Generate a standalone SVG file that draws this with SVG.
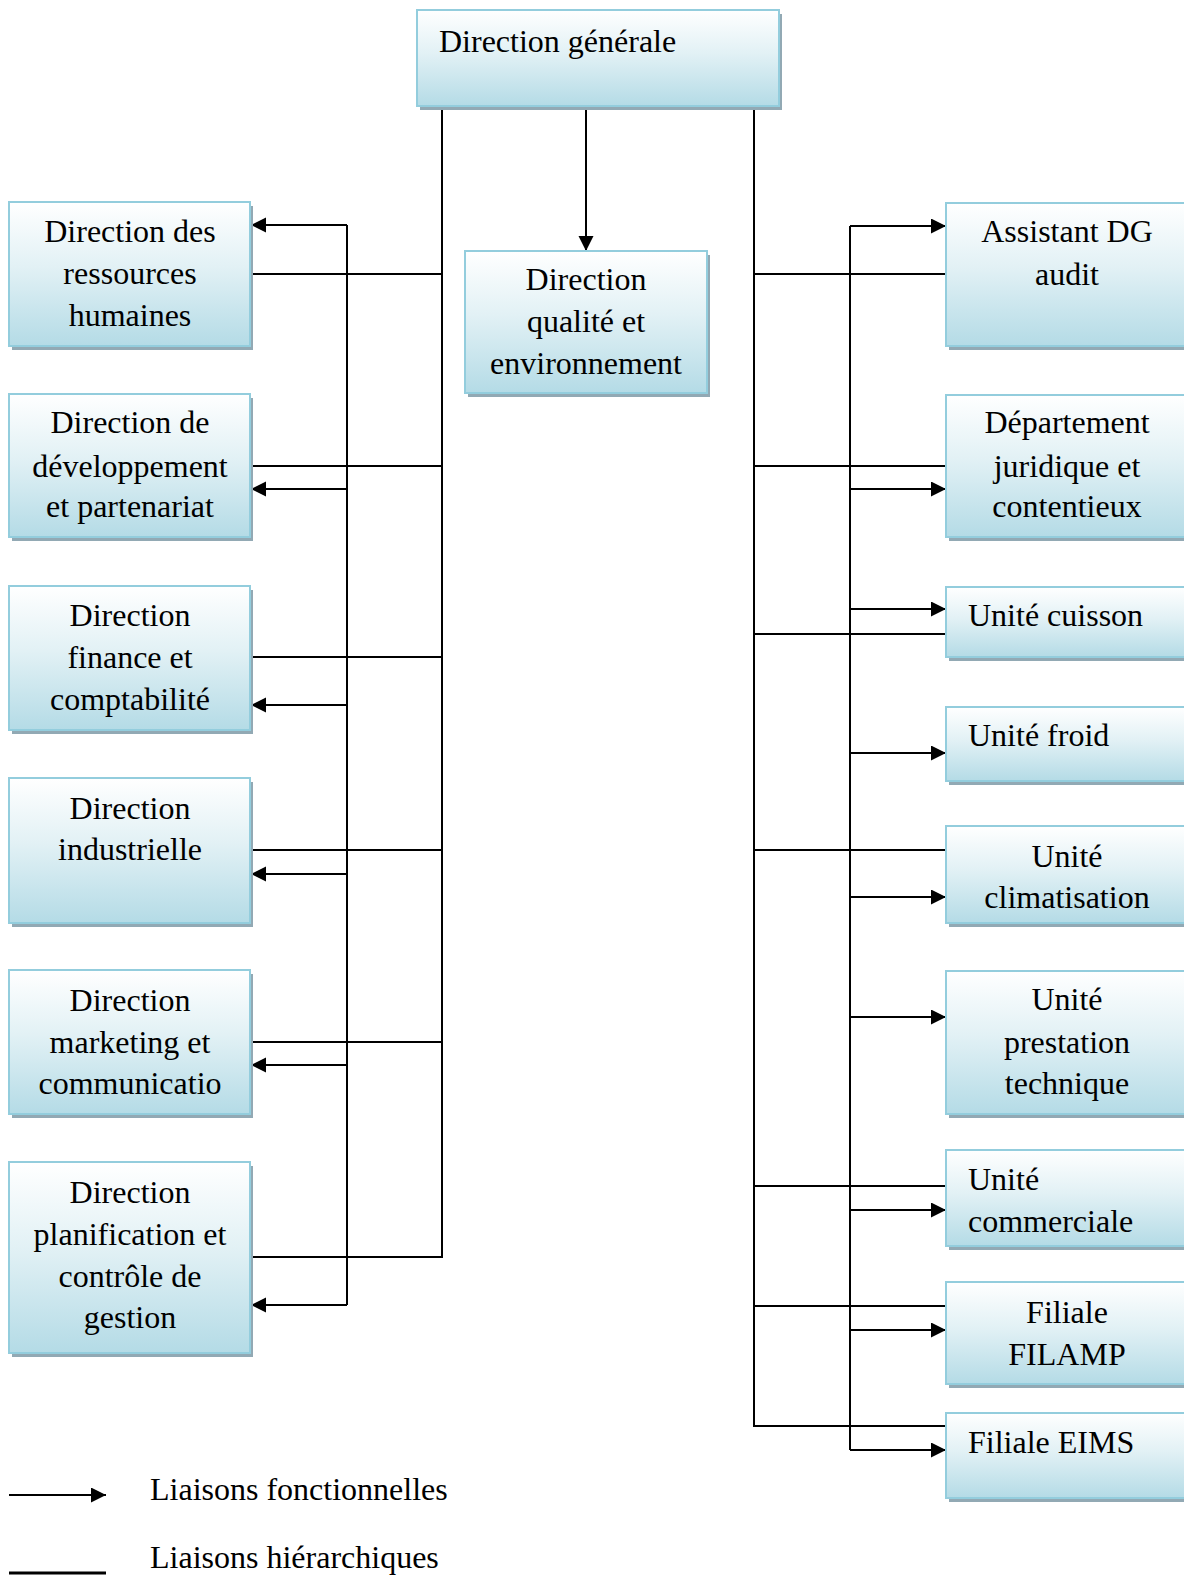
<svg xmlns="http://www.w3.org/2000/svg" width="1184" height="1575" viewBox="0 0 1184 1575">
<defs>
<linearGradient id="g" x1="0" y1="0" x2="0" y2="1">
<stop offset="0" stop-color="#ffffff"/>
<stop offset="0.45" stop-color="#e2f1f5"/>
<stop offset="1" stop-color="#b4dbe6"/>
</linearGradient>
<marker id="ah" markerUnits="userSpaceOnUse" markerWidth="16" markerHeight="16" refX="15" refY="7.5" orient="auto" viewBox="0 0 16 16">
<path d="M0,0 L15,7.5 L0,15 z" fill="#000"/>
</marker>
</defs>
<style>
.sh{fill:#92a9b4}
.bx{fill:url(#g);stroke:#93cddd;stroke-width:2}
text{font-family:"Liberation Serif","Times New Roman",serif;font-size:32px;fill:#000}
.c{text-anchor:middle}
.ln{fill:none;stroke:#000;stroke-width:2}
.ar{fill:none;stroke:#000;stroke-width:2;marker-end:url(#ah)}
</style>
<rect width="1184" height="1575" fill="#fff"/>

<g id="connectors">
<path class="ln" d="M442,106 V1257 H250"/>
<path class="ln" d="M250,274 H442 M250,466 H442 M250,657 H442 M250,850 H442 M250,1042 H442"/>
<path class="ln" d="M347,225 V1305"/>
<path class="ar" d="M347,225 H251"/>
<path class="ar" d="M347,489 H251"/>
<path class="ar" d="M347,705 H251"/>
<path class="ar" d="M347,874 H251"/>
<path class="ar" d="M347,1065 H251"/>
<path class="ar" d="M347,1305 H251"/>
<path class="ar" d="M586,106 V251"/>
<path class="ln" d="M754,106 V1426 H946"/>
<path class="ln" d="M754,274 H946 M754,466 H946 M754,634 H946 M754,850 H946 M754,1186 H946 M754,1306 H946"/>
<path class="ln" d="M850,226 V1450"/>
<path class="ar" d="M850,226 H946"/>
<path class="ar" d="M850,489 H946"/>
<path class="ar" d="M850,609 H946"/>
<path class="ar" d="M850,753 H946"/>
<path class="ar" d="M850,897 H946"/>
<path class="ar" d="M850,1017 H946"/>
<path class="ar" d="M850,1210 H946"/>
<path class="ar" d="M850,1330 H946"/>
<path class="ar" d="M850,1450 H946"/>
</g>

<g id="n-dg">
<rect class="sh" x="420" y="14" width="362" height="96"/>
<rect class="bx" x="417" y="10" width="362" height="96"/>
<text x="439" y="52">Direction générale</text>
</g>

<g id="n-dqe">
<rect class="sh" x="468" y="255" width="242" height="142"/>
<rect class="bx" x="465" y="251" width="242" height="142"/>
<text class="c" x="586" y="290">Direction</text>
<text class="c" x="586" y="332">qualité et</text>
<text class="c" x="586" y="374">environnement</text>
</g>

<g id="n-drh">
<rect class="sh" x="12" y="206" width="241" height="144"/>
<rect class="bx" x="9" y="202" width="241" height="144"/>
<text class="c" x="130" y="242">Direction des</text>
<text class="c" x="130" y="284">ressources</text>
<text class="c" x="130" y="326">humaines</text>
</g>

<g id="n-ddp">
<rect class="sh" x="12" y="398" width="241" height="143"/>
<rect class="bx" x="9" y="394" width="241" height="143"/>
<text class="c" x="130" y="433">Direction de</text>
<text class="c" x="130" y="477">développement</text>
<text class="c" x="130" y="517">et partenariat</text>
</g>

<g id="n-dfc">
<rect class="sh" x="12" y="590" width="241" height="144"/>
<rect class="bx" x="9" y="586" width="241" height="144"/>
<text class="c" x="130" y="626">Direction</text>
<text class="c" x="130" y="668">finance et</text>
<text class="c" x="130" y="710">comptabilité</text>
</g>

<g id="n-di">
<rect class="sh" x="12" y="782" width="241" height="145"/>
<rect class="bx" x="9" y="778" width="241" height="145"/>
<text class="c" x="130" y="819">Direction</text>
<text class="c" x="130" y="860">industrielle</text>
</g>

<g id="n-dmc">
<rect class="sh" x="12" y="974" width="241" height="144"/>
<rect class="bx" x="9" y="970" width="241" height="144"/>
<text class="c" x="130" y="1011">Direction</text>
<text class="c" x="130" y="1053">marketing et</text>
<text class="c" x="130" y="1094">communicatio</text>
</g>

<g id="n-dpcg">
<rect class="sh" x="12" y="1166" width="241" height="191"/>
<rect class="bx" x="9" y="1162" width="241" height="191"/>
<text class="c" x="130" y="1203">Direction</text>
<text class="c" x="130" y="1245">planification et</text>
<text class="c" x="130" y="1287">contrôle de</text>
<text class="c" x="130" y="1328">gestion</text>
</g>

<g id="n-adg">
<rect class="sh" x="949" y="207" width="241" height="143"/>
<rect class="bx" x="946" y="203" width="241" height="143"/>
<text class="c" x="1067" y="242">Assistant DG</text>
<text class="c" x="1067" y="285">audit</text>
</g>

<g id="n-djc">
<rect class="sh" x="949" y="399" width="241" height="142"/>
<rect class="bx" x="946" y="395" width="241" height="142"/>
<text class="c" x="1067" y="433">Département</text>
<text class="c" x="1067" y="477">juridique et</text>
<text class="c" x="1067" y="517">contentieux</text>
</g>

<g id="n-uc">
<rect class="sh" x="949" y="591" width="241" height="70"/>
<rect class="bx" x="946" y="587" width="241" height="70"/>
<text x="968" y="626">Unité cuisson</text>
</g>

<g id="n-uf">
<rect class="sh" x="949" y="711" width="241" height="74"/>
<rect class="bx" x="946" y="707" width="241" height="74"/>
<text x="968" y="746">Unité froid</text>
</g>

<g id="n-ucl">
<rect class="sh" x="949" y="830" width="241" height="97"/>
<rect class="bx" x="946" y="826" width="241" height="97"/>
<text class="c" x="1067" y="867">Unité</text>
<text class="c" x="1067" y="908">climatisation</text>
</g>

<g id="n-upt">
<rect class="sh" x="949" y="975" width="241" height="143"/>
<rect class="bx" x="946" y="971" width="241" height="143"/>
<text class="c" x="1067" y="1010">Unité</text>
<text class="c" x="1067" y="1053">prestation</text>
<text class="c" x="1067" y="1094">technique</text>
</g>

<g id="n-ucom">
<rect class="sh" x="949" y="1154" width="241" height="96"/>
<rect class="bx" x="946" y="1150" width="241" height="96"/>
<text x="968" y="1190">Unité</text>
<text x="968" y="1232">commerciale</text>
</g>

<g id="n-filamp">
<rect class="sh" x="949" y="1286" width="241" height="102"/>
<rect class="bx" x="946" y="1282" width="241" height="102"/>
<text class="c" x="1067" y="1323">Filiale</text>
<text class="c" x="1067" y="1365">FILAMP</text>
</g>

<g id="n-eims">
<rect class="sh" x="949" y="1417" width="241" height="85"/>
<rect class="bx" x="946" y="1413" width="241" height="85"/>
<text x="968" y="1453">Filiale EIMS</text>
</g>

<g id="legend">
<path class="ar" d="M9,1495 H106"/>
<path class="ln" d="M9,1573 H106" style="stroke-width:3"/>
<text x="150" y="1500">Liaisons fonctionnelles</text>
<text x="150" y="1568">Liaisons hiérarchiques</text>
</g>
</svg>
